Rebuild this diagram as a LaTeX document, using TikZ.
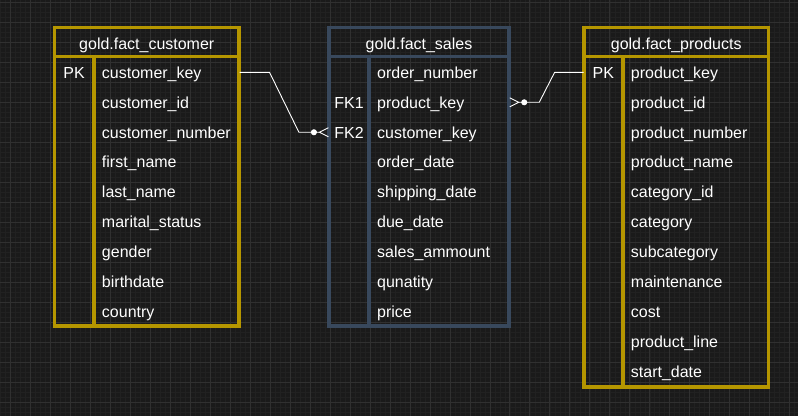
\documentclass[tikz,border=0pt]{standalone}
\usepackage{fontspec}
\setmainfont{Liberation Sans}
\usetikzlibrary{positioning,arrows.meta}
\definecolor{bgdark}{RGB}{26,26,26}
\definecolor{gridmajor}{RGB}{48,48,48}
\definecolor{gridminor}{RGB}{33,33,33}
\definecolor{goldline}{RGB}{181,150,0}
\definecolor{slateline}{RGB}{56,72,92}
\begin{document}
\begin{tikzpicture}[
    x=1pt, y=-1pt,
    every node/.style={font=\fontsize{16}{19}\selectfont, text=white, text height=13.5pt, text depth=2pt},
    hdr/.style={draw=#1, line width=3.5pt, rectangle, minimum height=29pt, outer sep=0pt, inner sep=0pt, text height=16pt, text depth=0.5pt},
    bodybox/.style={draw=#1, line width=3.5pt, rectangle, outer sep=0pt, inner sep=0pt, text height=, text depth=},
    keycol/.style={draw=#1, line width=3.5pt, rectangle, outer sep=0pt, inner sep=0pt, anchor=north west, text height=, text depth=},
    keylbl/.style={minimum width=#1, inner xsep=0pt, inner ysep=0pt},
    field/.style={anchor=west, text width=#1, inner xsep=8pt, inner ysep=0pt, align=left},
    rel/.style={white, line width=0.9pt, -{Circle[length=6pt,sep=1.5pt]Straight Barb[reversed,length=9pt,width=9pt]}}
]

% Background grid
\fill[bgdark] (0,0) rectangle (798,416);
\foreach \gx in {0,5,...,795} \draw[gridminor, line width=0.5pt] (\gx,0) -- (\gx,416);
\foreach \gy in {2,7,...,412} \draw[gridminor, line width=0.5pt] (0,\gy) -- (798,\gy);
\foreach \gx in {10,30,...,790} \draw[gridmajor, line width=0.8pt] (\gx,0) -- (\gx,416);
\foreach \gy in {2,22,...,402} \draw[gridmajor, line width=0.8pt] (0,\gy) -- (798,\gy);
\useasboundingbox (0,0) rectangle (798,416);

% gold.fact_customer
\node[hdr=goldline, minimum width=185pt] (cust) at (146.5,41.5) {gold.fact\_customer};
\node[bodybox=goldline, minimum width=185pt, minimum height=270pt, below=0pt of cust] (custbody) {};
\node[keycol=goldline, minimum width=39.5pt, minimum height=270pt] (custkeys) at (custbody.north west) {};
\node[keylbl=39.5pt] (cpk) at (73.75,72) {PK};
\foreach \f [count=\i] in {customer\_key, customer\_id, customer\_number, first\_name, last\_name, marital\_status, gender, birthdate, country}
    \node[field=129.5pt] (c\i) at (93.5,42+30*\i) {\f};

% gold.fact_sales
\node[hdr=slateline, minimum width=180pt] (sales) at (419,41.5) {gold.fact\_sales};
\node[bodybox=slateline, minimum width=180pt, minimum height=270pt, below=0pt of sales] (salesbody) {};
\node[keycol=slateline, minimum width=40pt, minimum height=270pt] (saleskeys) at (salesbody.north west) {};
\node[keylbl=40pt] (fk1) at (349,102) {FK1};
\node[keylbl=40pt] (fk2) at (349,132) {FK2};
\foreach \f [count=\i] in {order\_number, product\_key, customer\_key, order\_date, shipping\_date, due\_date, sales\_ammount, qunatity, price}
    \node[field=124pt] (s\i) at (369,42+30*\i) {\f};

% gold.fact_products
\node[hdr=goldline, minimum width=185pt] (prod) at (676.5,41.5) {gold.fact\_products};
\node[bodybox=goldline, minimum width=185pt, minimum height=331pt, below=0pt of prod] (prodbody) {};
\node[keycol=goldline, minimum width=39pt, minimum height=331pt] (prodkeys) at (prodbody.north west) {};
\node[keylbl=39pt] (ppk) at (603.5,72) {PK};
\foreach \f [count=\i] in {product\_key, product\_id, product\_number, product\_name, category\_id, category, subcategory, maintenance, cost, product\_line, start\_date}
    \node[field=130pt] (p\i) at (623,42+30*\i) {\f};

% Relations
\draw[rel] (c1.east) -- ++(30,0) -- ([xshift=-30pt]fk2.west) -- (fk2.west);
\draw[rel] (ppk.west) -- ++(-29,0) -- ([xshift=30pt]s2.east) -- (s2.east);

\end{tikzpicture}
\end{document}
